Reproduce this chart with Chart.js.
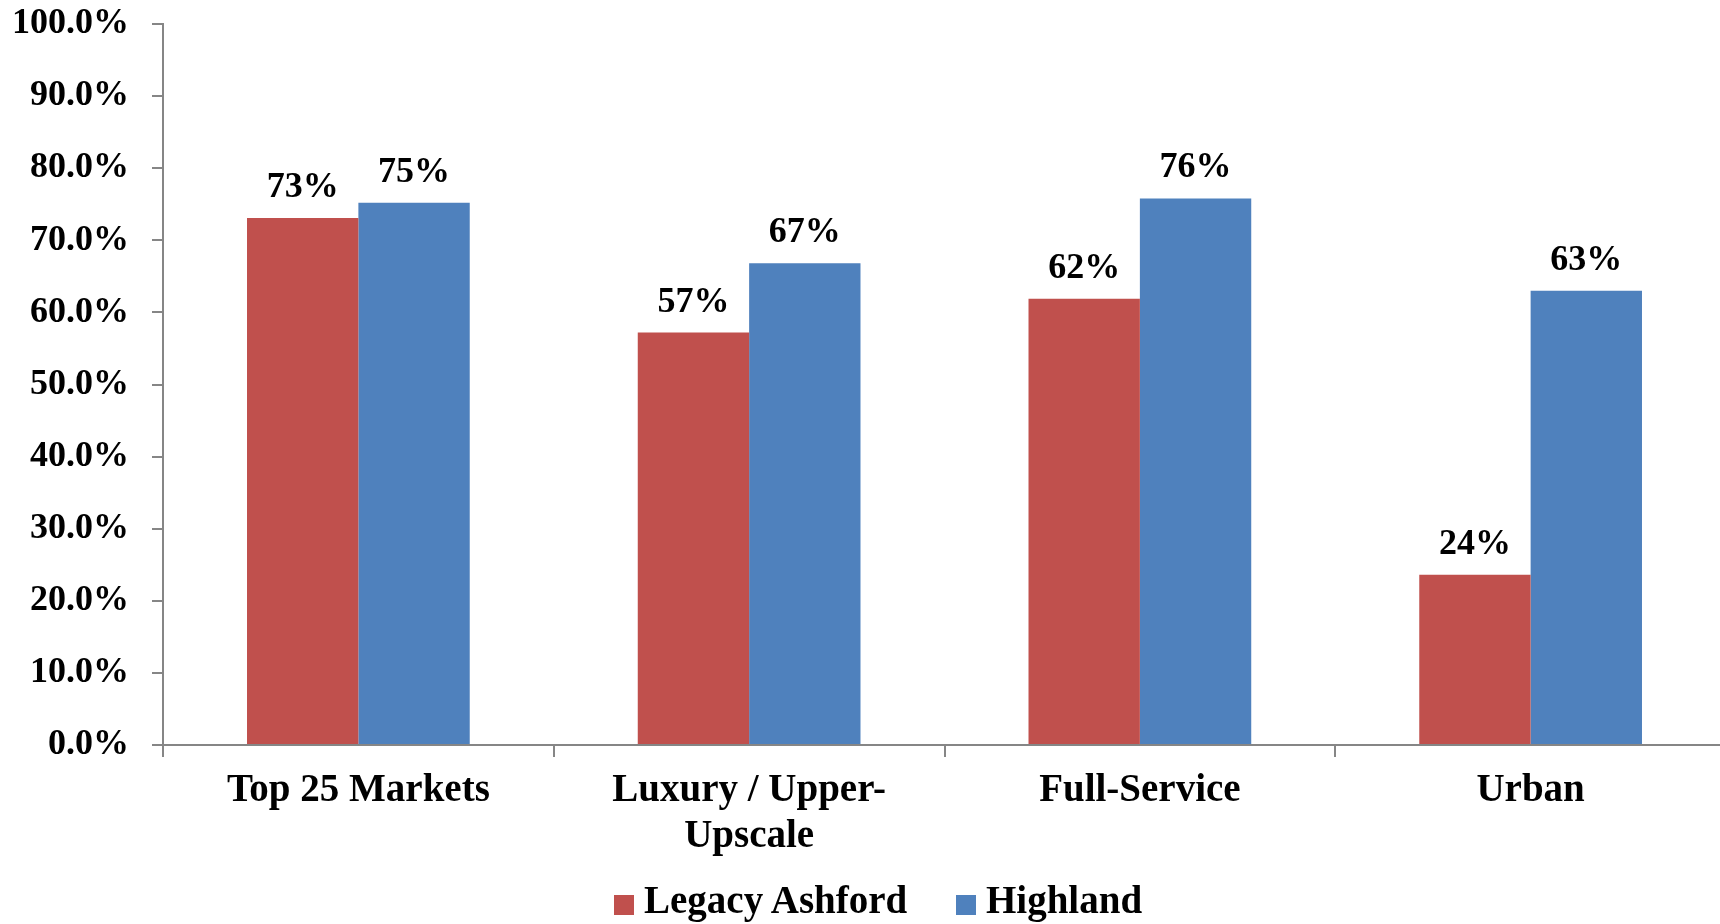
<!DOCTYPE html>
<html>
<head>
<meta charset="utf-8">
<script src="https://cdn.jsdelivr.net/npm/chart.js@4.4.1/dist/chart.umd.min.js"></script>
<style>
    html, body { margin: 0; padding: 0; background: #fff; overflow: hidden; }
    #wrap { position: relative; width: 1726px; height: 924px; }
    .legend-item {
        position: absolute;
        top: 881px;
        display: flex;
        align-items: flex-start;
        font: bold 39px 'Liberation Serif', 'Times New Roman', serif;
        line-height: 38px;
        color: #000;
        white-space: nowrap;
    }
    .legend-box { width: 20px; height: 20px; margin-top: 14px; margin-right: 10px; }
</style>
</head>
<body>
<div id="wrap"><canvas id="shareChart"></canvas></div>
<script>
// categories and series
const categories = ['Top 25 Markets', ['Luxury / Upper-', 'Upscale'], 'Full-Service', 'Urban'];
const legacyAshford = [73.1, 57.2, 61.9, 23.6];
const highland = [75.2, 66.8, 75.8, 63.0];
const seriesNames = ['Legacy Ashford', 'Highland'];
const seriesColors = ['#C0504D', '#4F81BD'];
const yTicksMax = 100;
const yTicksStep = 10;

const FONT = "'Liberation Serif', 'Times New Roman', serif";

// draws the "73%" style labels above each bar
const barLabels = {
    id: 'barLabels',
    afterDatasetsDraw(chart) {
        const ctx = chart.ctx;
        ctx.save();
        ctx.font = 'bold 36px ' + FONT;
        ctx.fillStyle = '#000';
        ctx.textAlign = 'center';
        ctx.textBaseline = 'alphabetic';
        chart.data.datasets.forEach(function (ds, i) {
            chart.getDatasetMeta(i).data.forEach(function (bar, j) {
                ctx.fillText(Math.round(ds.data[j]) + '%', bar.x, bar.y - 21);
            });
        });
        ctx.restore();
    }
};

const ctx = document.getElementById('shareChart').getContext('2d');
const chart = new Chart(ctx, {
    type: 'bar',
    data: {
        labels: categories,
        datasets: [
            {
                label: seriesNames[0],
                data: legacyAshford,
                backgroundColor: seriesColors[0],
                borderWidth: 0
            },
            {
                label: seriesNames[1],
                data: highland,
                backgroundColor: seriesColors[1],
                borderWidth: 0
            }
        ]
    },
    options: {
        responsive: true,
        maintainAspectRatio: false,
        animation: false,
        layout: { padding: { top: 24, left: 0, right: 0, bottom: 0 } },
        datasets: {
            bar: { barPercentage: 1.0, categoryPercentage: 0.57 }
        },
        plugins: {
            tooltip: { enabled: false },
            legend: { display: false }
        },
        scales: {
            x: {
                grid: {
                    display: true,
                    drawOnChartArea: false,
                    drawTicks: true,
                    tickLength: 12,
                    color: '#868686',
                    lineWidth: 2
                },
                border: { color: '#868686', width: 2 },
                ticks: {
                    color: '#000',
                    font: { family: FONT, size: 39, weight: 'bold', lineHeight: 1.18 },
                    padding: 11,
                    maxRotation: 0,
                    autoSkip: false
                },
                afterFit: function (scale) { scale.height = 179; }
            },
            y: {
                min: 0,
                max: yTicksMax,
                grid: {
                    display: true,
                    drawOnChartArea: false,
                    drawTicks: true,
                    tickLength: 11,
                    color: '#868686',
                    lineWidth: 2
                },
                border: { color: '#868686', width: 2 },
                ticks: {
                    stepSize: yTicksStep,
                    color: '#000',
                    font: { family: FONT, size: 36, weight: 'bold' },
                    padding: 23,
                    callback: function (v) { return v.toFixed(1) + '%'; }
                },
                afterFit: function (scale) {
                    scale.width = 163;
                    scale.paddingTop = 0;
                }
            }
        }
    },
    plugins: [barLabels]
});

// legend built from the dataset names and colours
const legendLeft = [614, 956];
chart.data.datasets.forEach(function (ds, i) {
    const item = document.createElement('div');
    item.className = 'legend-item';
    item.style.left = legendLeft[i] + 'px';
    const box = document.createElement('span');
    box.className = 'legend-box';
    box.style.background = ds.backgroundColor;
    const txt = document.createElement('span');
    txt.textContent = ds.label;
    item.appendChild(box);
    item.appendChild(txt);
    document.getElementById('wrap').appendChild(item);
});
</script>
</body>
</html>
